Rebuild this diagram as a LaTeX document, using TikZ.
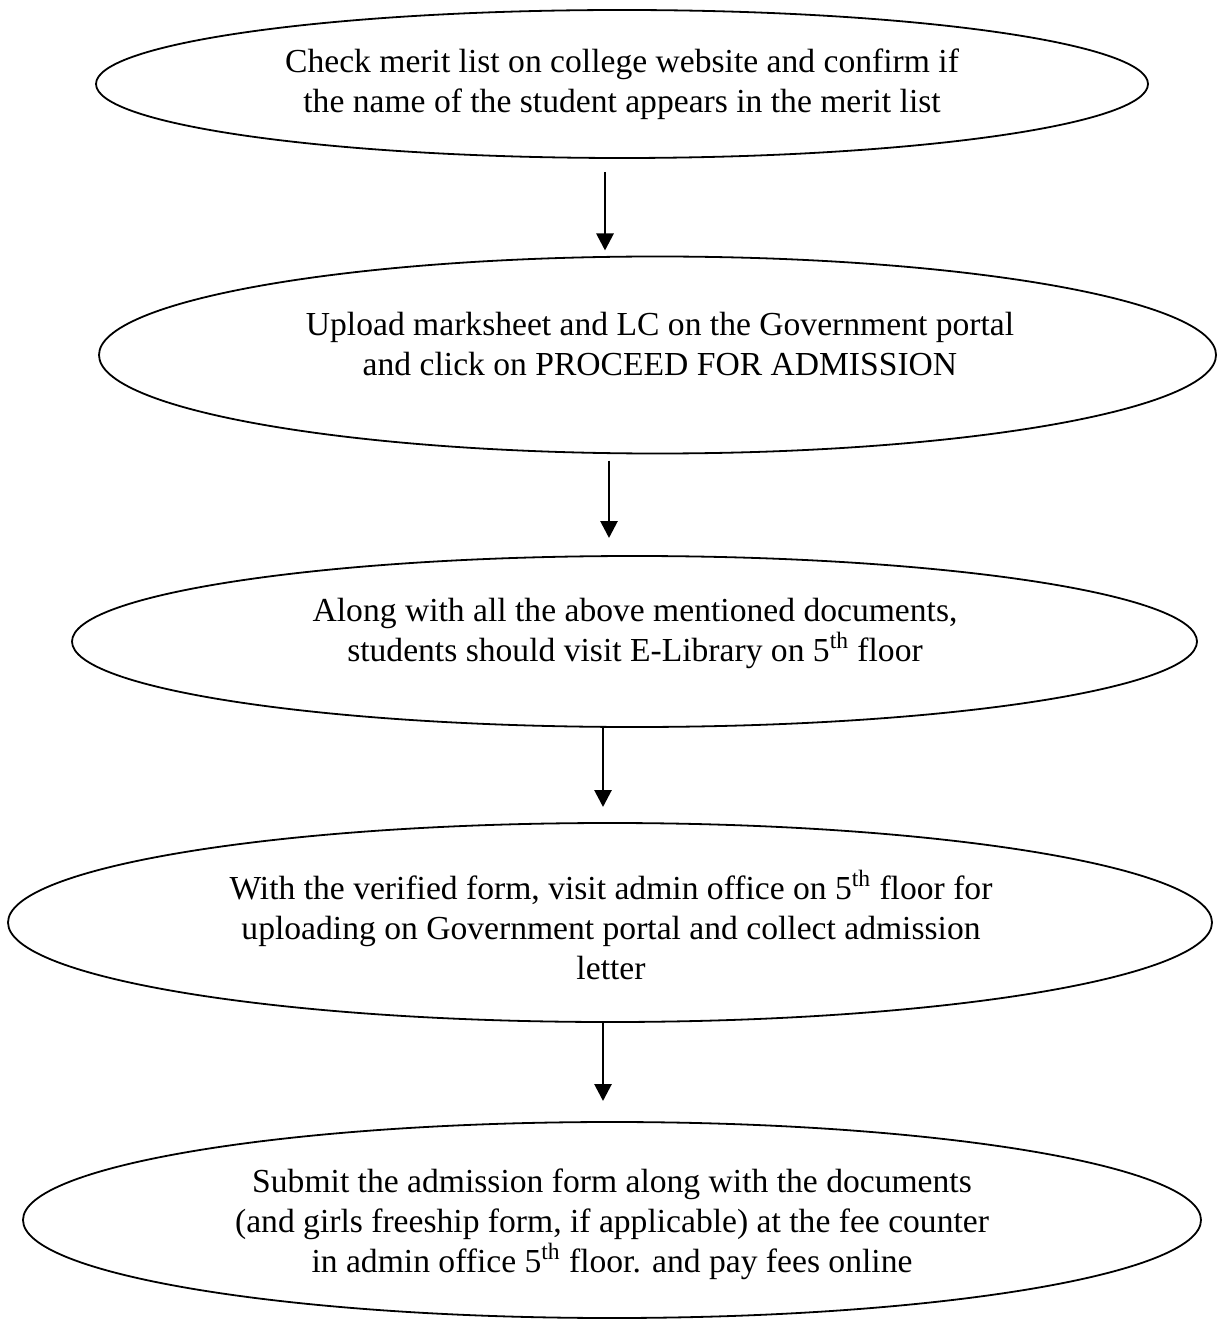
\documentclass[tikz,border=0pt]{standalone}
\usepackage{fontspec}
\setmainfont{Liberation Serif}
\usetikzlibrary{shapes.geometric,arrows.meta}
\tikzset{
  ell/.style={draw=black, line width=0.9pt, ellipse, inner sep=0pt, outer sep=0pt},
  txt/.style={align=center, font=\fontsize{16.8}{20}\selectfont, inner sep=0pt},
  arr/.style={line width=1.4pt, -{Triangle[width=8.5pt,length=8.5pt]}}
}
\begin{document}
\begin{tikzpicture}[x=0.5pt,y=-0.5pt]
\useasboundingbox (0,0) rectangle (1216,1320);
\node[ell, minimum width=526pt, minimum height=74pt] (e1) at (622,84) {};
\node[txt] (t1) at (622,84) {Check merit list on college website and confirm if\\the name of the student appears in the merit list};

\node[ell, minimum width=558.5pt, minimum height=98.5pt] (e2) at (657.5,355) {};
\node[txt] (t2) at (660,344) {Upload marksheet and LC on the Government portal\\and click on PROCEED FOR ADMISSION};

\node[ell, minimum width=562.5pt, minimum height=85.5pt] (e3) at (634.5,641.5) {};
\node[txt] (t3) at (635,633) {Along with all the above mentioned documents,\\students should visit E-Library on 5\textsuperscript{th} floor};

\node[ell, minimum width=602pt, minimum height=99.5pt] (e4) at (610,922.5) {};
\node[txt] (t4) at (611,925) {With the verified form, visit admin office on 5\textsuperscript{th} floor for\\uploading on Government portal and collect admission\\letter};

\node[ell, minimum width=589pt, minimum height=98pt] (e5) at (612,1220) {};
\node[txt] (t5) at (612,1224) {Submit the admission form along with the documents\\(and girls freeship form, if applicable) at the fee counter\\in admin office 5\textsuperscript{th} floor. and pay fees online};

\coordinate (c1) at (605,0);
\coordinate (c2) at (609,0);
\coordinate (c3) at (603,0);
\draw[arr] ([yshift=-7pt]c1 |- e1.south) -- ([yshift=3pt]c1 |- e2.north);
\draw[arr] ([yshift=-3.5pt]c2 |- e2.south) -- ([yshift=9pt]c2 |- e3.north);
\draw[arr] (c3 |- e3.south) -- ([yshift=8pt]c3 |- e4.north);
\draw[arr] (c3 |- e4.south) -- ([yshift=10.5pt]c3 |- e5.north);
\end{tikzpicture}
\end{document}
